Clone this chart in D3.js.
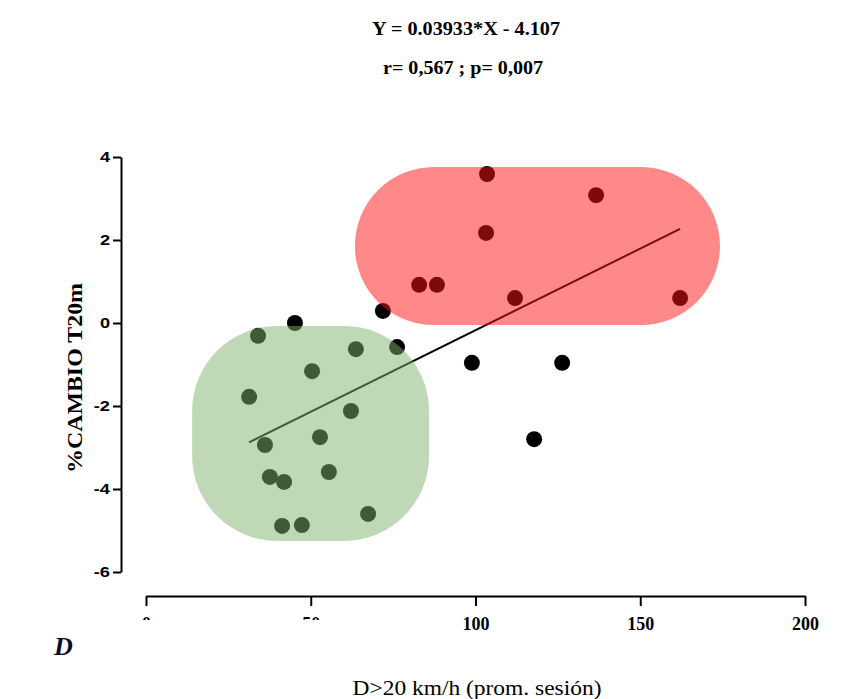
<!DOCTYPE html>
<html>
<head>
<meta charset="utf-8">
<script src="https://cdn.jsdelivr.net/npm/d3@7/dist/d3.min.js"></script>
<style>
  body { margin: 0; background: #fff; }
  svg { display: block; }
  .serif { font-family: "Liberation Serif", "Times New Roman", serif; }
</style>
</head>
<body>
<svg id="chart" width="854" height="699"></svg>
<script>
// ========== data

const xVals = [34.0, 45.2, 71.9, 76.2, 98.9, 126.3, 117.8,
  31.3, 36.1, 50.4, 63.7, 62.2, 52.8, 37.6, 41.9, 55.5, 41.3, 47.3, 67.4,
  103.5, 136.6, 103.2, 82.9, 88.3, 112.0, 162.1];
const yVals = [-0.31, 0.0, 0.29, -0.58, -0.96, -0.96, -2.80,
  -1.78, -2.94, -1.16, -0.63, -2.12, -2.75, -3.71, -3.83, -3.59, -4.89, -4.87, -4.60,
  3.59, 3.08, 2.17, 0.92, 0.92, 0.60, 0.60];

const xTicks = [0, 50, 100, 150, 200];
const yTicks = [-6, -4, -2, 0, 2, 4];

const slope = 0.03933;
const intercept = -4.107;

// highlighted groups, in data units: [x0, x1, y0, y1]
const redZone = [63.4, 174.2, -0.05, 3.76];
const greenZone = [14.0, 85.9, -5.25, -0.07];

const titleLines = ['Y = 0.03933*X - 4.107', 'r= 0,567 ; p= 0,007'];
const yTitle = '%CAMBIO T20m';
const xTitle = 'D>20 km/h (prom. sesión)';
const panelLabel = 'D';

// ========== layout

const svg = d3.select('#chart');
const x = d3.scaleLinear().domain([0, 200]).range([146, 805]);
const y = d3.scaleLinear().domain([-6, 4]).range([572, 157]);
const xAxisY = 596;
const yAxisX = 121;

// titles
svg.append('text').attr('class', 'serif')
  .attr('x', 466).attr('y', 35)
  .attr('text-anchor', 'middle')
  .attr('font-weight', 'bold').attr('font-size', 19)
  .attr('textLength', 188).attr('lengthAdjust', 'spacingAndGlyphs')
  .text(titleLines[0]);
svg.append('text').attr('class', 'serif')
  .attr('x', 463).attr('y', 74)
  .attr('text-anchor', 'middle')
  .attr('font-weight', 'bold').attr('font-size', 19)
  .attr('textLength', 160).attr('lengthAdjust', 'spacingAndGlyphs')
  .text(titleLines[1]);

// y axis
const yAxis = svg.append('g')
  .attr('transform', `translate(${yAxisX},0)`)
  .call(d3.axisLeft(y).tickValues(yTicks).tickSize(8).tickSizeOuter(0)
    .tickFormat(d => String(d)));
yAxis.select('.domain').attr('stroke-width', 2);
yAxis.selectAll('.tick line').attr('stroke-width', 2);
yAxis.selectAll('.tick text')
  .attr('x', -11).attr('fill', '#000')
  .attr('font-family', '"Liberation Sans", Arial, sans-serif')
  .attr('font-weight', 'bold').attr('font-size', 14)
  .each(function() {
    // labels in the original are a bit stretched sideways
    const w = this.getComputedTextLength();
    d3.select(this).attr('textLength', w * 1.3).attr('lengthAdjust', 'spacingAndGlyphs');
  });

// x axis
const xAxis = svg.append('g')
  .attr('transform', `translate(0,${xAxisY})`)
  .call(d3.axisBottom(x).tickValues(xTicks).tickSize(10).tickSizeOuter(0)
    .tickFormat(d => String(d)));
xAxis.select('.domain').attr('stroke-width', 2);
xAxis.selectAll('.tick line').attr('stroke-width', 2);
xAxis.selectAll('.tick text')
  .attr('y', 21).attr('dy', '0.71em').attr('fill', '#000')
  .attr('font-family', '"Liberation Serif", "Times New Roman", serif')
  .attr('font-weight', 'bold').attr('font-size', 18);

// the first two tick labels are cut off in the original
svg.append('clipPath').attr('id', 'cutlabels')
  .append('rect').attr('x', -100).attr('y', -100).attr('width', 200).attr('height', 124);
xAxis.selectAll('.tick').filter(d => d < 100).select('text')
  .attr('clip-path', 'url(#cutlabels)');

// axis titles
svg.append('text').attr('class', 'serif')
  .attr('transform', 'translate(82,378) rotate(-90)')
  .attr('text-anchor', 'middle')
  .attr('font-weight', 'bold').attr('font-size', 20)
  .attr('textLength', 190).attr('lengthAdjust', 'spacingAndGlyphs')
  .text(yTitle);
svg.append('text').attr('class', 'serif')
  .attr('x', 477).attr('y', 695)
  .attr('text-anchor', 'middle')
  .attr('font-size', 21)
  .attr('textLength', 249).attr('lengthAdjust', 'spacingAndGlyphs')
  .text(xTitle);
svg.append('text').attr('class', 'serif')
  .attr('x', 54).attr('y', 655)
  .attr('font-weight', 'bold').attr('font-style', 'italic')
  .attr('font-size', 26).attr('fill', '#0a0a2a')
  .text(panelLabel);

// points
svg.append('g').selectAll('circle')
  .data(xVals.map((v, i) => [v, yVals[i]]))
  .enter().append('circle')
  .attr('cx', d => x(d[0]))
  .attr('cy', d => y(d[1]))
  .attr('r', 8)
  .attr('fill', '#000');

// regression line across the data range
const [xmin, xmax] = d3.extent(xVals);
svg.append('line')
  .attr('x1', x(xmin)).attr('y1', y(slope * xmin + intercept))
  .attr('x2', x(xmax)).attr('y2', y(slope * xmax + intercept))
  .attr('stroke', '#000').attr('stroke-width', 2);

// translucent group highlights on top
function zone(z, fill, rx) {
  svg.append('rect')
    .attr('x', x(z[0])).attr('y', y(z[3]))
    .attr('width', x(z[1]) - x(z[0]))
    .attr('height', y(z[2]) - y(z[3]))
    .attr('rx', rx)
    .attr('fill', fill).attr('fill-opacity', 0.5);
}
zone(redZone, 'rgb(255,20,20)', 79);
zone(greenZone, 'rgb(128,180,112)', 85);
</script>
</body>
</html>
